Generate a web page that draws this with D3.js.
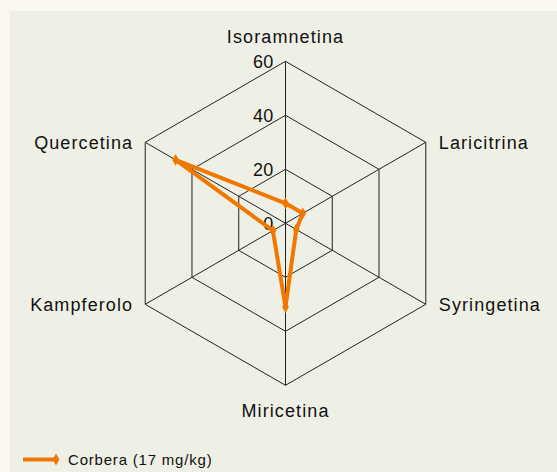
<!DOCTYPE html>
<html lang="en">
<head>
<meta charset="UTF-8">
<title>Radar</title>
<script src="https://d3js.org/d3.v7.min.js"></script>
<style>
  body { margin: 0; background: #faf7f0; font-family: "Liberation Sans", Arial, sans-serif; }
</style>
</head>
<body>
<div id="chart"></div>
<script>
// --- data ---
const axes = ["Isoramnetina", "Laricitrina", "Syringetina", "Miricetina", "Kampferolo", "Quercetina"];
const values = [7.4, 7.4, 4.6, 31, 5.4, 47];
const ticks = [0, 20, 40, 60];
const seriesName = "Corbera (17 mg/kg)";

const W = 557, H = 472;
const cx = 285.5, cy = 223.3, R = 162;
const color = "#f07800";

const svg = d3.select("#chart").append("svg")
    .attr("width", W).attr("height", H);

svg.append("rect")
    .attr("x", 10).attr("y", 11)
    .attr("width", W - 10).attr("height", H - 11)
    .attr("fill", "#eff0e5");

const r = d3.scaleLinear().domain([0, 60]).range([0, R]);
const angle = i => -Math.PI / 2 + i * 2 * Math.PI / axes.length;
const pt = (i, v) => [cx + r(v) * Math.cos(angle(i)), cy + r(v) * Math.sin(angle(i))];

const g = svg.append("g");

// rings
ticks.filter(t => t > 0).forEach(t => {
    g.append("path")
        .attr("d", d3.line()(axes.map((a, i) => pt(i, t))) + "Z")
        .attr("fill", "none")
        .attr("stroke", "#222")
        .attr("stroke-width", 1);
});

// spokes
axes.forEach((a, i) => {
    const [x, y] = pt(i, 60);
    g.append("line")
        .attr("x1", cx).attr("y1", cy).attr("x2", x).attr("y2", y)
        .attr("stroke", "#222").attr("stroke-width", 1);
});

// tick labels
ticks.forEach(t => {
    g.append("text")
        .attr("x", cx - 12).attr("y", cy - r(t))
        .attr("dy", "0.36em")
        .attr("text-anchor", "end")
        .attr("font-size", 18)
        .attr("letter-spacing", "0.3px")
        .attr("fill", "#111")
        .text(t);
});

// axis labels
axes.forEach((a, i) => {
    const [x, y] = pt(i, 60);
    const c = Math.cos(angle(i));
    const t = g.append("text").attr("font-size", 18)
        .attr("letter-spacing", "1.1px")
        .attr("fill", "#111").text(a);
    if (Math.abs(c) < 0.01) {
        t.attr("x", x).attr("text-anchor", "middle")
         .attr("y", i === 0 ? y - 18 : y + 32);
    } else if (c > 0) {
        t.attr("x", x + 13).attr("y", y).attr("dy", "0.36em").attr("text-anchor", "start");
    } else {
        t.attr("x", x - 12).attr("y", y).attr("dy", "0.36em").attr("text-anchor", "end");
    }
});

// series
const pts = values.map((v, i) => pt(i, v));
g.append("path")
    .attr("d", d3.line()(pts) + "Z")
    .attr("fill", "none")
    .attr("stroke", color)
    .attr("stroke-width", 4)
    .attr("stroke-linejoin", "round");

g.selectAll(".mk").data(pts).enter().append("path")
    .attr("class", "mk")
    .attr("transform", d => `translate(${d[0]},${d[1]})`)
    .attr("d", d3.symbol(d3.symbolDiamond, 40)())
    .attr("fill", color);

// legend
const ly = 459.5;
svg.append("line")
    .attr("x1", 23).attr("x2", 56).attr("y1", ly).attr("y2", ly)
    .attr("stroke", color).attr("stroke-width", 4);
svg.append("path")
    .attr("transform", `translate(56,${ly})`)
    .attr("d", d3.symbol(d3.symbolDiamond, 40)())
    .attr("fill", color);
svg.append("text")
    .attr("x", 68).attr("y", ly).attr("dy", "0.36em")
    .attr("font-size", 15)
    .attr("letter-spacing", "0.8px")
    .attr("fill", "#111")
    .text(seriesName);
</script>
</body>
</html>
